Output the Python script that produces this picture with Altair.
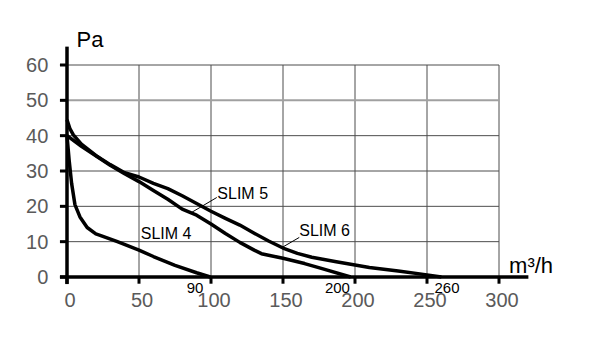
import altair as alt
import pandas as pd

# ---- data ----
slim4_x = [0, 1.5, 3.2, 5.5, 9, 14, 20, 23, 35, 50, 60, 75, 90, 99.5]
slim4_y = [40, 33, 26.5, 20.5, 17, 14, 12.2, 11.8, 10, 7.6, 5.8, 3.3, 1.2, 0]

slim5_x = [0, 10, 20, 30, 40, 50, 60, 70, 80, 90, 100, 110, 120, 130, 135, 150, 165, 176, 197]
slim5_y = [40, 37, 34.3, 31.6, 29.2, 27, 24.5, 22, 19.2, 17.5, 15, 12.3, 9.8, 7.6, 6.6, 5.3, 3.8, 2.5, 0]

slim6_x = [0, 2, 4.4, 10, 20, 30, 40, 50, 60, 70, 80, 90, 100, 110, 120, 130, 140, 150, 160, 170, 187, 210, 230, 250, 260]
slim6_y = [44.5, 42, 40.2, 37.6, 34.4, 31.8, 29.5, 28.3, 26.5, 25, 23, 20.8, 18.6, 16.6, 14.7, 12.4, 10.2, 8.2, 6.7, 5.6, 4.3, 2.7, 1.7, 0.6, 0]

x_ticks = [0, 50, 100, 150, 200, 250, 300]
y_ticks = [0, 10, 20, 30, 40, 50, 60]

curve_names = ["SLIM 4", "SLIM 5", "SLIM 6"]
curve_label_x = [51.2, 104.4, 161.3]
curve_label_y = [12.2, 23.5, 13.0]

leader_x = [85.4, 149.1]
leader_y = [18.0, 8.3]
leader_x2 = [104.0, 161.3]
leader_y2 = [22.5, 11.2]

end_labels = ["90", "200", "260"]
end_label_x = [88.9, 187.8, 263.9]
end_label_y = [-3.1, -3.0, -3.1]

X_MAX, Y_MAX = 300, 60

FONT = "Liberation Sans"

rows = []
for name, xs_, ys_ in [("SLIM 4", slim4_x, slim4_y), ("SLIM 5", slim5_x, slim5_y), ("SLIM 6", slim6_x, slim6_y)]:
    for i, (a, b) in enumerate(zip(xs_, ys_)):
        rows.append({"series": name, "x": a, "y": b, "i": i})
df = pd.DataFrame(rows)

xs = alt.Scale(domain=[0, X_MAX], nice=False, zero=False)
ys = alt.Scale(domain=[0, Y_MAX], nice=False, zero=False)


def X(field="x:Q"):
    return alt.X(field, scale=xs, axis=None)


def Y(field="y:Q"):
    return alt.Y(field, scale=ys, axis=None)


# gridlines
vgrid_df = pd.DataFrame({"x": x_ticks, "y": [0] * len(x_ticks), "y2": [Y_MAX] * len(x_ticks)})
vgrid = alt.Chart(vgrid_df).mark_rule(color="#4d4d4d", strokeWidth=1).encode(x=X(), y=Y(), y2="y2:Q")

hgrid_df = pd.DataFrame({"y": y_ticks, "x": [0] * len(y_ticks), "x2": [X_MAX] * len(y_ticks),
                         "light": [v == 50 for v in y_ticks]})
hgrid = alt.Chart(hgrid_df).mark_rule().encode(
    x=X(), x2="x2:Q", y=Y(),
    color=alt.Color("light:N", scale=alt.Scale(domain=[False, True], range=["#4d4d4d", "#a0a0a0"]), legend=None),
    strokeWidth=alt.StrokeWidth("light:N", scale=alt.Scale(domain=[False, True], range=[1, 2]), legend=None),
)

# tick marks
xt_df = pd.DataFrame({"x": x_ticks, "y": [0] * len(x_ticks), "y2": [-1.9] * len(x_ticks)})
xt = alt.Chart(xt_df).mark_rule(color="black", strokeWidth=3).encode(x=X(), y=Y(), y2="y2:Q")
yt_df = pd.DataFrame({"y": y_ticks, "x": [0] * len(y_ticks), "x2": [-4.9] * len(y_ticks)})
yt = alt.Chart(yt_df).mark_rule(color="black", strokeWidth=3).encode(x=X(), x2="x2:Q", y=Y())

# tick labels
xl_df = pd.DataFrame({"x": x_ticks, "y": [-6.8] * len(x_ticks), "t": [str(v) for v in x_ticks]})
xl = alt.Chart(xl_df).mark_text(font=FONT, fontSize=20, color="#5a5a5a", align="center", baseline="middle", dx=3).encode(
    x=X(), y=Y(), text="t:N")
yl_df = pd.DataFrame({"y": y_ticks, "x": [-13] * len(y_ticks), "t": [str(v) for v in y_ticks]})
yl = alt.Chart(yl_df).mark_text(font=FONT, fontSize=20, color="#5a5a5a", align="right", baseline="middle", dy=1).encode(
    x=X(), y=Y(), text="t:N")

# axis lines
xaxis_line = alt.Chart(pd.DataFrame({"x": [-4.9], "x2": [320.4], "y": [0]})).mark_rule(
    color="black", strokeWidth=3.5).encode(x=X(), x2="x2:Q", y=Y())
yaxis_line = alt.Chart(pd.DataFrame({"x": [0], "y": [-2], "y2": [65.2]})).mark_rule(
    color="black", strokeWidth=3.5).encode(x=X(), y=Y(), y2="y2:Q")

lines = alt.Chart(df).mark_line(color="black", strokeWidth=3.5, strokeJoin="round").encode(
    x=X(), y=Y(), detail="series:N", order="i:Q")

lab_df = pd.DataFrame({"t": curve_names, "x": curve_label_x, "y": curve_label_y})
labels = alt.Chart(lab_df).mark_text(font=FONT, fontSize=16, align="left", baseline="middle", color="black").encode(
    x=X(), y=Y(), text="t:N")

lead_df = pd.DataFrame({"x": leader_x, "y": leader_y, "x2": leader_x2, "y2": leader_y2})
leaders = alt.Chart(lead_df).mark_rule(color="black", strokeWidth=1).encode(
    x=X(), y=Y(), x2="x2:Q", y2="y2:Q")

end_df = pd.DataFrame({"t": end_labels, "x": end_label_x, "y": end_label_y})
ends = alt.Chart(end_df).mark_text(font=FONT, fontSize=15, align="center", baseline="middle", color="black").encode(
    x=X(), y=Y(), text="t:N")

pa = alt.Chart(pd.DataFrame({"t": ["Pa"], "x": [16], "y": [65.2]})).mark_text(
    font=FONT, fontSize=22, align="center", baseline="alphabetic", color="black").encode(
    x=X(), y=Y(), text="t:N")
unit = alt.Chart(pd.DataFrame({"t": ["m³/h"], "x": [307], "y": [1.2]})).mark_text(
    font=FONT, fontSize=22, align="left", baseline="alphabetic", color="black").encode(
    x=X(), y=Y(), text="t:N")

chart = alt.layer(vgrid, hgrid, xt, yt, xl, yl, lines, xaxis_line, yaxis_line,
                  leaders, labels, ends, pa, unit).properties(
    width=432, height=212,
    autosize=alt.AutoSizeParams(type="none"),
    padding={"left": 59, "top": 57, "right": 70, "bottom": 60},
).configure_view(stroke=None)

chart.save("out.html", embed_options={"renderer": "svg", "actions": False})
